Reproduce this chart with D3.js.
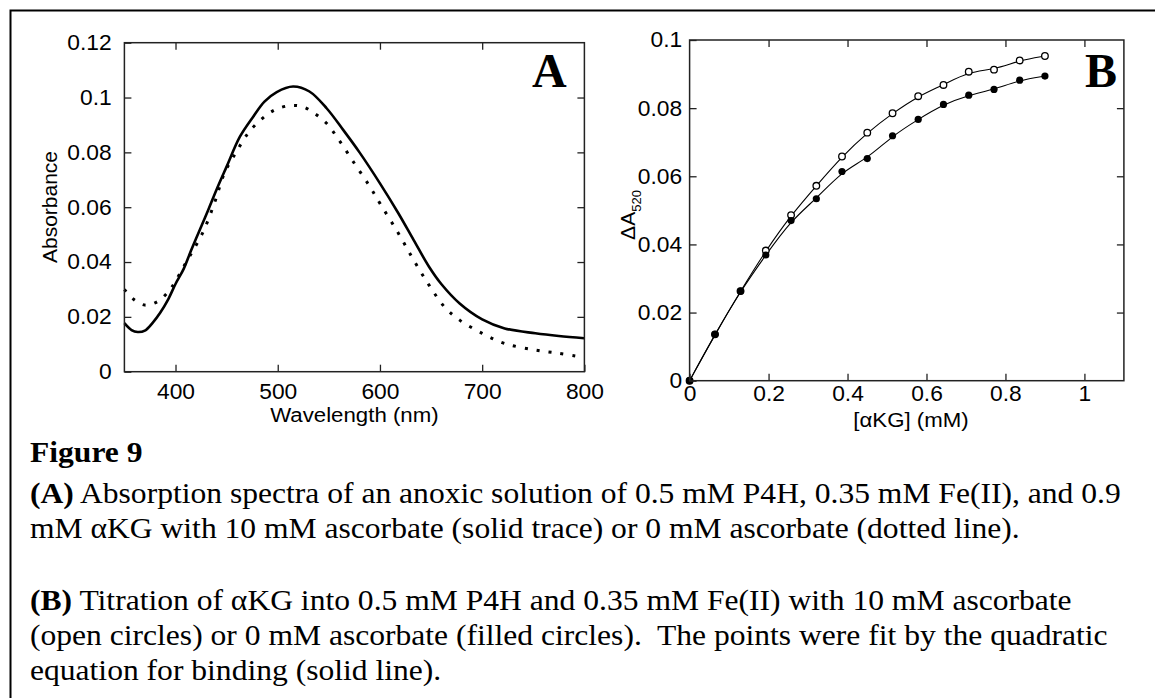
<!DOCTYPE html>
<html>
<head>
<meta charset="utf-8">
<script src="https://cdn.jsdelivr.net/npm/d3@7"></script>
<style>
body { margin: 0; background: #fff; }
svg text { fill: #000; }
.ax text { font-family: "Liberation Sans", Arial, sans-serif; font-size: 21.5px; }
.title { font-family: "Liberation Sans", Arial, sans-serif; font-size: 21px; }
.cap { font-family: "Liberation Serif", "Times New Roman", serif; font-size: 29.8px; white-space: pre; }
.panel { font-family: "Liberation Serif", "Times New Roman", serif; font-size: 48px; font-weight: bold; }
</style>
</head>
<body>
<svg></svg>
<script>
// Panel A: absorption spectra, 10 mM ascorbate (solid)
const wlSolid = [350, 357, 363, 370, 378, 385, 393, 400, 408, 415, 424, 432, 440, 450, 463, 476, 487, 499, 515, 531, 548, 564, 580, 600, 618, 633, 648, 660, 678, 700, 722, 752, 775, 800]
const absSolid = [0.0177, 0.0152, 0.0145, 0.015, 0.018, 0.0215, 0.0265, 0.032, 0.0375, 0.044, 0.052, 0.059, 0.0663, 0.0748, 0.0857, 0.093, 0.0985, 0.102, 0.104, 0.1022, 0.096, 0.0882, 0.08, 0.0687, 0.0578, 0.048, 0.0383, 0.032, 0.0249, 0.0191, 0.0158, 0.014, 0.013, 0.0122]
// 0 mM ascorbate (dotted)
const wlDotted = [350, 359, 370, 382, 393, 400, 409, 416, 427, 438, 448, 460, 470, 478, 489, 499, 513, 524, 535, 548, 561, 576, 590, 600, 618, 633, 648, 663, 678, 700, 722, 752, 775, 792]
const absDotted = [0.03, 0.0264, 0.0243, 0.0255, 0.0292, 0.033, 0.039, 0.0435, 0.051, 0.0614, 0.0725, 0.0805, 0.0865, 0.09, 0.0936, 0.0958, 0.0971, 0.0967, 0.0945, 0.0905, 0.0839, 0.0754, 0.0676, 0.0614, 0.0505, 0.0407, 0.0316, 0.0237, 0.0188, 0.014, 0.0103, 0.0079, 0.0067, 0.0057]

// Panel B: titration
const akg = [0, 0.0643, 0.129, 0.193, 0.257, 0.321, 0.386, 0.45, 0.514, 0.579, 0.643, 0.707, 0.771, 0.836, 0.9]
const dAopen = [0, 0.0136, 0.0263, 0.0382, 0.0486, 0.0572, 0.0658, 0.0728, 0.0785, 0.0835, 0.0868, 0.0907, 0.0913, 0.094, 0.0953]
const dAfilled = [0, 0.0136, 0.0263, 0.0369, 0.047, 0.0534, 0.0614, 0.0652, 0.0719, 0.0767, 0.0811, 0.0838, 0.0855, 0.0882, 0.0894]

const ticksAx = [400, 500, 600, 700, 800]
const ticksAy = [0, 0.02, 0.04, 0.06, 0.08, 0.1, 0.12]
const ticksBx = [0, 0.2, 0.4, 0.6, 0.8, 1]
const ticksBy = [0, 0.02, 0.04, 0.06, 0.08, 0.1]

const SX = 1.06 // the figure is a bit stretched sideways

const svg = d3.select("svg").attr("width", 1155).attr("height", 698)

// outer frame (only left and top edges show)
svg.append("path")
	.attr("d", "M10.5,698 L10.5,10.5 L1155,10.5")
	.attr("fill", "none")
	.attr("stroke", "#000")
	.attr("stroke-width", 2)

const fmt = d3.format("~g")

function drawFrame(x, y, xt, yt, padX, padY) {
	const [x0, x1] = x.range()
	const [y0, y1] = y.range()
	const g = svg.append("g").attr("class", "ax").attr("color", "#222")
	g.append("g")
		.attr("transform", `translate(0,${y0})`)
		.call(d3.axisBottom(x).tickValues(xt).tickSizeInner(-7).tickSizeOuter(0).tickPadding(padX).tickFormat(fmt))
	g.append("g")
		.attr("transform", `translate(${x0},0)`)
		.call(d3.axisLeft(y).tickValues(yt).tickSizeInner(-7).tickSizeOuter(0).tickPadding(padY).tickFormat(fmt))
	g.append("g")
		.attr("transform", `translate(0,${y1})`)
		.call(d3.axisTop(x).tickValues(xt.filter(v => x(v) > x0 + 1 && x(v) < x1 - 1)).tickSize(-7).tickFormat(""))
	g.append("g")
		.attr("transform", `translate(${x1},0)`)
		.call(d3.axisRight(y).tickValues(yt.filter(v => y(v) < y0 - 1 && y(v) > y1 + 1)).tickSize(-7).tickFormat(""))
	g.selectAll(".domain").remove()
	g.selectAll(".tick line").attr("stroke-width", 1.3)
	g.selectAll(".tick text").attr("transform", `scale(${SX},1)`)
	g.append("rect")
		.attr("x", x0).attr("y", y1)
		.attr("width", x1 - x0).attr("height", y0 - y1)
		.attr("fill", "none")
		.attr("stroke", "#222")
		.attr("stroke-width", 1.5)
	return g
}

// ---------- Panel A ----------
const xA = d3.scaleLinear().domain([350, 800]).range([124.4, 584.4])
const yA = d3.scaleLinear().domain([0, 0.12]).range([371.7, 42.7])

const lineA = d3.line()
	.x(d => xA(d[0]))
	.y(d => yA(d[1]))
	.curve(d3.curveCatmullRom)

svg.append("path")
	.datum(d3.zip(wlDotted, absDotted))
	.attr("d", lineA)
	.attr("fill", "none")
	.attr("stroke", "#000")
	.attr("stroke-width", 3)
	.attr("stroke-dasharray", "3,9")

svg.append("path")
	.datum(d3.zip(wlSolid, absSolid))
	.attr("d", lineA)
	.attr("fill", "none")
	.attr("stroke", "#000")
	.attr("stroke-width", 2.6)

drawFrame(xA, yA, ticksAx, ticksAy, 12, 12)

svg.append("text")
	.attr("class", "title")
	.attr("text-anchor", "middle")
	.attr("transform", `translate(354.4,422) scale(${SX},1)`)
	.text("Wavelength (nm)")

svg.append("text")
	.attr("class", "title")
	.attr("text-anchor", "middle")
	.attr("transform", "translate(57,207) rotate(-90)")
	.text("Absorbance")

svg.append("text").attr("class", "panel").attr("x", 532).attr("y", 87).text("A")

// ---------- Panel B ----------
const xB = d3.scaleLinear().domain([0, 1.1]).range([689.6, 1123.9])
const yB = d3.scaleLinear().domain([0, 0.1]).range([380.7, 40])

const lineB = d3.line()
	.x(d => xB(d[0]))
	.y(d => yB(d[1]))
	.curve(d3.curveBasis)

const openPts = d3.zip(akg, dAopen)
const filledPts = d3.zip(akg, dAfilled)

;[openPts, filledPts].forEach(pts => {
	svg.append("path")
		.datum(pts)
		.attr("d", lineB)
		.attr("fill", "none")
		.attr("stroke", "#000")
		.attr("stroke-width", 1.1)
})

svg.append("g")
	.selectAll("circle")
	.data(openPts)
	.join("circle")
	.attr("cx", d => xB(d[0]))
	.attr("cy", d => yB(d[1]))
	.attr("r", 3.3)
	.attr("fill", "#fff")
	.attr("stroke", "#000")
	.attr("stroke-width", 1.3)

svg.append("g")
	.selectAll("circle")
	.data(filledPts)
	.join("circle")
	.attr("cx", d => xB(d[0]))
	.attr("cy", d => yB(d[1]))
	.attr("r", 3.6)
	.attr("fill", "#000")

drawFrame(xB, yB, ticksBx, ticksBy, 5, 7)

svg.append("text")
	.attr("class", "title")
	.attr("text-anchor", "middle")
	.attr("transform", `translate(911,427) scale(${SX},1)`)
	.text("[αKG] (mM)")

const yLab = svg.append("text")
	.attr("class", "title")
	.attr("text-anchor", "middle")
	.attr("transform", "translate(635,215) rotate(-90)")
yLab.append("tspan").text("ΔA")
yLab.append("tspan").attr("dy", 6).attr("font-size", 13).text("520")

svg.append("text").attr("class", "panel").attr("x", 1085).attr("y", 87).text("B")

// ---------- Caption ----------
const caption = [
	{ y: 462, bold: "Figure 9", rest: "" },
	{ y: 503, bold: "(A)", rest: " Absorption spectra of an anoxic solution of 0.5 mM P4H, 0.35 mM Fe(II), and 0.9" },
	{ y: 537.5, bold: "", rest: "mM αKG with 10 mM ascorbate (solid trace) or 0 mM ascorbate (dotted line)." },
	{ y: 610, bold: "(B)", rest: " Titration of αKG into 0.5 mM P4H and 0.35 mM Fe(II) with 10 mM ascorbate" },
	{ y: 645, bold: "", rest: "(open circles) or 0 mM ascorbate (filled circles).  The points were fit by the quadratic" },
	{ y: 680, bold: "", rest: "equation for binding (solid line)." }
]

caption.forEach(c => {
	const t = svg.append("text")
		.attr("class", "cap")
		.attr("transform", `translate(30,${c.y}) scale(${SX},1)`)
	if (c.bold) t.append("tspan").attr("font-weight", "bold").text(c.bold)
	if (c.rest) t.append("tspan").text(c.rest)
})
</script>
</body>
</html>
